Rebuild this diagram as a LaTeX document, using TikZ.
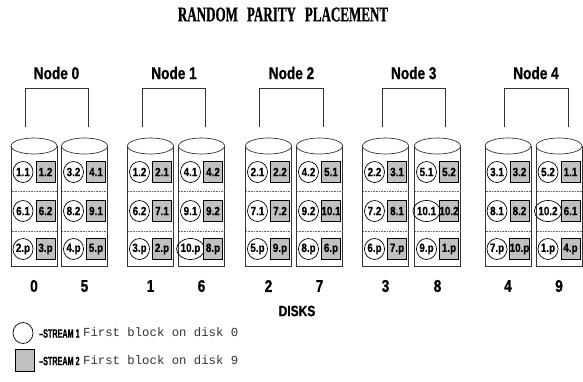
\documentclass[tikz,border=0pt]{standalone}
\usepackage{fontspec}
\usetikzlibrary{shapes.geometric}
\newfontfamily\titlefont[FakeStretch=0.62, BoldFont={Liberation Serif Bold}, BoldFeatures={FakeBold=0.8}]{Liberation Serif}
\newfontfamily\nsans[FakeStretch=0.8, BoldFont={Liberation Sans Bold}, BoldFeatures={FakeBold=0.8}]{Liberation Sans}
\newfontfamily\csans[FakeStretch=0.82, BoldFont={Liberation Sans Bold}, BoldFeatures={FakeBold=0.6}]{Liberation Sans}
\newfontfamily\lsans[FakeStretch=0.6, BoldFont={Liberation Sans Bold}, BoldFeatures={FakeBold=0.6}]{Liberation Sans}
\newfontfamily\monof{Liberation Mono}
\definecolor{boxgray}{HTML}{C0C0C0}
\definecolor{linegray}{HTML}{333333}
\tikzset{
  cellc/.style={ellipse, draw=black, line width=0.7pt, minimum width=20pt, minimum height=21pt, inner sep=0pt, font=\csans\bfseries\fontsize{12}{12}\selectfont},
  cellb/.style={rectangle, draw=black, line width=0.7pt, fill=boxgray, minimum width=19pt, minimum height=21pt, inner sep=0pt, font=\csans\bfseries\fontsize{12}{12}\selectfont},
  cylline/.style={draw=linegray, line width=0.7pt},
  sepline/.style={draw=black!60, line width=0.7pt, dash pattern=on 0.8pt off 0.8pt},
  brk/.style={draw=linegray, line width=0.7pt},
  biglbl/.style={inner sep=0pt, font=\nsans\bfseries\fontsize{17}{17}\selectfont},
  lgdtxt/.style={inner sep=0pt, anchor=west, font=\lsans\bfseries\fontsize{12}{12}\selectfont},
  monotxt/.style={inner sep=0pt, anchor=west, text=black!80, font=\monof\fontsize{12.3}{12.3}\selectfont}
}
\begin{document}
\begin{tikzpicture}[x=1pt,y=-1pt]
\useasboundingbox (0,0) rectangle (583,381);
\node[inner sep=0pt, font=\titlefont\bfseries\fontsize{21}{21}\selectfont] (title) at (283,14.5) {RANDOM\hspace{9pt}PARITY\hspace{9pt}PLACEMENT};
% brackets and node labels
\foreach \k/\bl/\br in {0/25/88, 1/142.5/205.5, 2/259.5/323.5, 3/382/445.5, 4/504/568}{
  \coordinate (bl\k) at (\bl,127);
  \coordinate (br\k) at (\br,127);
  \draw[brk] (bl\k) -- ++(0,-39) -| (br\k);
  \node[biglbl] (node\k) at ({(\bl+\br)/2},73) {Node \k};
}
% disks
\foreach \dn/\L/\ua/\ub/\va/\vb/\wa/\wb in {
  0/11/{1.1}/{1.2}/{6.1}/{6.2}/{2.p}/{3.p},
  5/61.5/{3.2}/{4.1}/{8.2}/{9.1}/{4.p}/{5.p},
  1/127.5/{1.2}/{2.1}/{6.2}/{7.1}/{3.p}/{2.p},
  6/178.5/{4.1}/{4.2}/{9.1}/{9.2}/{10.p}/{8.p},
  2/245.5/{2.1}/{2.2}/{7.1}/{7.2}/{5.p}/{9.p},
  7/296.5/{4.2}/{5.1}/{9.2}/{10.1}/{8.p}/{6.p},
  3/362.5/{2.2}/{3.1}/{7.2}/{8.1}/{6.p}/{7.p},
  8/414.5/{5.1}/{5.2}/{10.1}/{10.2}/{9.p}/{1.p},
  4/485/{3.1}/{3.2}/{8.1}/{8.2}/{7.p}/{10.p},
  9/536/{5.2}/{1.1}/{10.2}/{6.1}/{1.p}/{4.p}}{
  \draw[cylline] (\L,146) -- (\L,266) -- (\L+46,266) -- (\L+46,146);
  \draw[cylline] (\L+23,146) ellipse [x radius=23, y radius=8];
  \draw[sepline] (\L+0.5,191) -- (\L+45.5,191);
  \draw[sepline] (\L+0.5,231) -- (\L+45.5,231);
  \node[cellc] (d\dn a1) at (\L+12,172) {\ua};
  \node[cellb] (d\dn b1) at (\L+34.5,172) {\ub};
  \node[cellc] (d\dn a2) at (\L+12,211) {\va};
  \node[cellb] (d\dn b2) at (\L+34.5,211) {\vb};
  \node[cellc] (d\dn a3) at (\L+12,249) {\wa};
  \node[cellb] (d\dn b3) at (\L+34.5,249) {\wb};
  \node[biglbl] (num\dn) at (\L+23,286) {\dn};
}
\node[inner sep=0pt, font=\nsans\bfseries\fontsize{15}{15}\selectfont] (disks) at (297,311) {DISKS};
% legend
\node[ellipse, draw=black, line width=0.7pt, minimum width=20pt, minimum height=21pt, inner sep=0pt] (lc) at (23,333) {};
\node[lgdtxt] (s1) at (39,333.5) {\textendash STREAM 1};
\node[monotxt] (m1) at (83,332.5) {First block on disk 0};
\node[rectangle, draw=black, line width=0.7pt, fill=boxgray, minimum width=19pt, minimum height=22pt, inner sep=0pt] (lb) at (25,360.5) {};
\node[lgdtxt] (s2) at (39,361) {\textendash STREAM 2};
\node[monotxt] (m2) at (83,360) {First block on disk 9};
\end{tikzpicture}
\end{document}
